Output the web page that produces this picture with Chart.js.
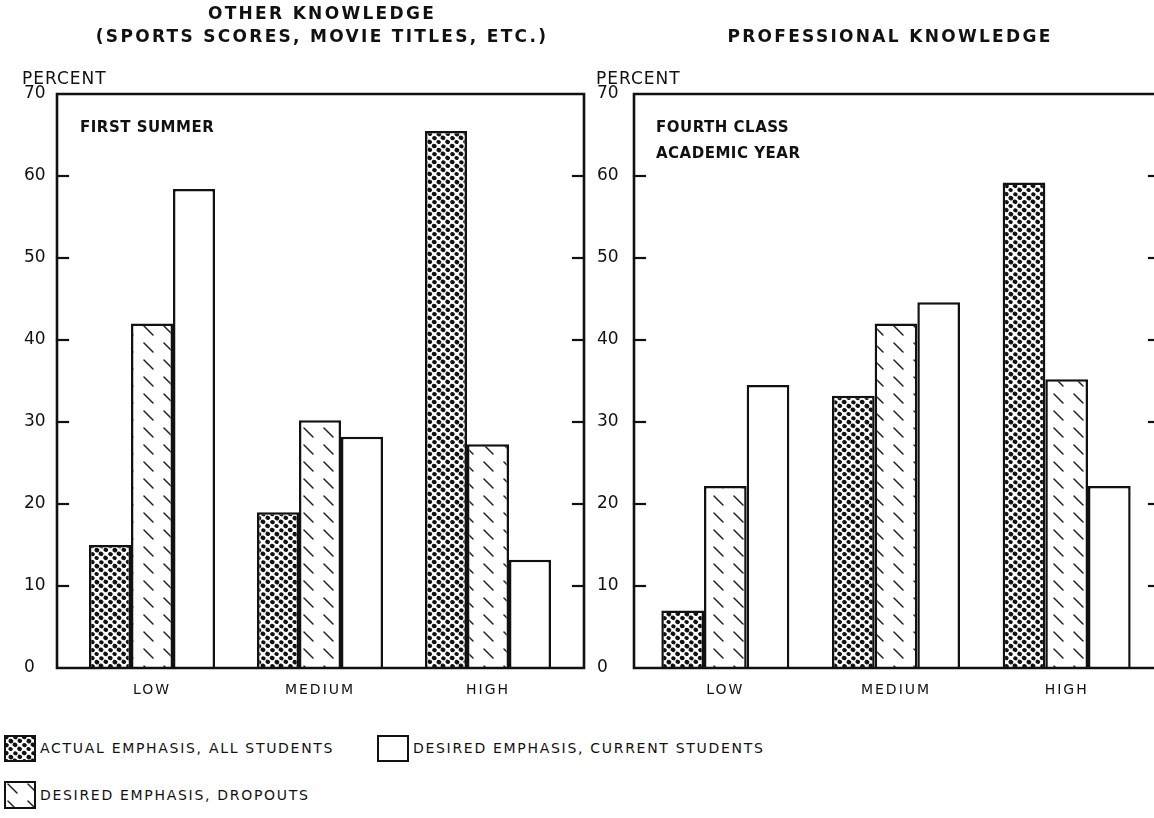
<!DOCTYPE html>
<html><head><meta charset="utf-8">
<script src="https://cdn.jsdelivr.net/npm/chart.js@4.4.0/dist/chart.umd.min.js"></script>
<style>
html,body{margin:0;padding:0;background:#fff;width:1154px;height:818px;overflow:hidden;}
#stage{position:relative;width:1154px;height:818px;overflow:hidden;font-family:"DejaVu Sans",sans-serif;color:#111;}
.abs{position:absolute;white-space:nowrap;line-height:20px;}
.title{font-weight:bold;font-size:17px;letter-spacing:2.3px;text-align:center;width:600px;}
.panel{font-weight:bold;font-size:15px;letter-spacing:0.5px;}
.pct{font-size:17px;letter-spacing:1px;}
.leg{font-size:14px;letter-spacing:1.7px;}
canvas.sw{position:absolute;}
</style></head>
<body><div id="stage">
<canvas id="c1" width="600" height="720" style="position:absolute;left:0;top:0;"></canvas>
<canvas id="c2" width="580" height="720" style="position:absolute;left:590px;top:0;"></canvas>

<div class="abs title" style="left:22px;top:3px;">OTHER KNOWLEDGE</div>
<div class="abs title" style="left:22px;top:26px;">(SPORTS SCORES, MOVIE TITLES, ETC.)</div>
<div class="abs title" style="left:590px;top:26px;">PROFESSIONAL KNOWLEDGE</div>

<div class="abs pct" style="left:22px;top:68px;">PERCENT</div>
<div class="abs pct" style="left:596px;top:68px;">PERCENT</div>

<div class="abs panel" style="left:80px;top:117px;">FIRST SUMMER</div>
<div class="abs panel" style="left:656px;top:117px;">FOURTH CLASS</div>
<div class="abs panel" style="left:656px;top:143px;">ACADEMIC YEAR</div>

<canvas class="sw" id="sw1" width="32" height="27" style="left:4px;top:735px;"></canvas>
<div class="abs leg" style="left:40px;top:738px;">ACTUAL EMPHASIS, ALL STUDENTS</div>
<canvas class="sw" id="sw2" width="32" height="27" style="left:377px;top:735px;"></canvas>
<div class="abs leg" style="left:413px;top:738px;">DESIRED EMPHASIS, CURRENT STUDENTS</div>
<canvas class="sw" id="sw3" width="32" height="28" style="left:4px;top:781px;"></canvas>
<div class="abs leg" style="left:40px;top:785px;">DESIRED EMPHASIS, DROPOUTS</div>
</div>
<script>
// ---- data ----
const categories = ['LOW', 'MEDIUM', 'HIGH'];
const seriesNames = ['ACTUAL EMPHASIS, ALL STUDENTS', 'DESIRED EMPHASIS, DROPOUTS', 'DESIRED EMPHASIS, CURRENT STUDENTS'];
const otherActual   = [15, 19, 65.5];
const otherDropouts = [42, 30.2, 27.3];
const otherCurrent  = [58.4, 28.2, 13.2];
const profActual    = [7, 33.2, 59.2];
const profDropouts  = [22.2, 42, 35.2];
const profCurrent   = [34.5, 44.6, 22.2];
const yTickValues   = [0, 10, 20, 30, 40, 50, 60, 70];

// ---- patterns ----
function makeStipple() {
  const W = 18, H = 16;
  const c = document.createElement('canvas'); c.width = W; c.height = H;
  const x = c.getContext('2d');
  x.fillStyle = '#fff'; x.fillRect(0, 0, W, H);
  x.fillStyle = '#111';
  // hex arrangement with small fixed irregularity for a stippled look
  const pts = [[2.2, 2.0, 2.4], [11.4, 2.3, 2.2], [6.9, 6.1, 2.5], [15.8, 5.8, 2.3],
               [2.5, 10.1, 2.3], [11.0, 9.8, 2.5], [6.6, 14.0, 2.2], [15.6, 13.9, 2.4]];
  pts.forEach(([px, py, r]) => {
    for (let dx = -W; dx <= W; dx += W) for (let dy = -H; dy <= H; dy += H) {
      x.beginPath(); x.ellipse(px + dx, py + dy, r, r * 0.9, 0.4, 0, Math.PI * 2); x.fill();
    }
  });
  return x.createPattern(c, 'repeat');
}
function makeHatch() {
  const c = document.createElement('canvas'); c.width = 20; c.height = 17;
  const x = c.getContext('2d');
  x.fillStyle = '#fff'; x.fillRect(0, 0, 20, 17);
  x.strokeStyle = '#222'; x.lineWidth = 1.5; x.lineCap = 'round';
  x.beginPath(); x.moveTo(4, 3); x.lineTo(13, 12); x.stroke();
  return x.createPattern(c, 'repeat');
}
const stipple = makeStipple();
const hatch = makeHatch();
const fills = [stipple, hatch, '#ffffff'];

// ---- plugins: letter-spaced category labels, frame with inward ticks ----
const spacingPlugin = {
  id: 'spacing',
  beforeDraw(chart) {
    const xs = chart.scales.x;
    if (!xs._spaced) {
      const orig = xs.drawLabels.bind(xs);
      xs.drawLabels = function (ca) {
        const c = this.ctx, prev = c.letterSpacing;
        c.letterSpacing = '2px'; orig(ca); c.letterSpacing = prev;
      };
      xs._spaced = true;
    }
  }
};
const framePlugin = {
  id: 'frame',
  afterDatasetsDraw(chart, args, opts) {
    const {ctx, chartArea: a} = chart;
    const y = chart.scales.y;
    const L = a.left - opts.insetL, R = a.right + opts.insetR, T = a.top, B = a.bottom;
    ctx.save();
    ctx.strokeStyle = '#111'; ctx.lineWidth = 2.6; ctx.lineCap = 'square';
    ctx.beginPath();
    ctx.moveTo(L, B); ctx.lineTo(L, T); ctx.lineTo(R, T); ctx.lineTo(R, B); ctx.closePath();
    ctx.stroke();
    ctx.lineWidth = 2.2;
    yTickValues.slice(1, -1).forEach(v => {
      const py = y.getPixelForValue(v);
      ctx.beginPath(); ctx.moveTo(L, py); ctx.lineTo(L + 11, py); ctx.stroke();
      ctx.beginPath(); ctx.moveTo(R - 11, py); ctx.lineTo(R, py); ctx.stroke();
    });
    ctx.restore();
  }
};

function makeChart(id, values, g) {
  return new Chart(document.getElementById(id), {
    type: 'bar',
    data: {
      labels: categories,
      datasets: values.map((d, i) => ({
        label: seriesNames[i], data: d,
        backgroundColor: fills[i], borderColor: '#111', borderWidth: 2.5,
        categoryPercentage: 0.75, barPercentage: 1.0
      }))
    },
    plugins: [spacingPlugin, framePlugin],
    options: {
      responsive: false, animation: false, devicePixelRatio: 1,
      layout: {padding: {left: g.padL, right: g.padR, top: g.padT, bottom: g.padB}},
      plugins: {legend: {display: false}, tooltip: {enabled: false}, title: {display: false},
        frame: {insetL: g.insetL, insetR: g.insetR}},
      scales: {
        x: {
          grid: {display: false, drawTicks: false}, border: {display: false},
          ticks: {color: '#111', padding: 14, font: {family: 'DejaVu Sans', size: 14}},
          afterFit(s) { s.height = 40; }
        },
        y: {
          min: 0, max: 70,
          afterBuildTicks(s) { s.ticks = yTickValues.map(v => ({value: v})); },
          grid: {display: false, drawTicks: false}, border: {display: false},
          ticks: {color: '#111', padding: 0, crossAlign: 'far', font: {family: 'DejaVu Sans', size: 17}},
          afterFit(s) { s.width = g.axisW; }
        }
      }
    }
  });
}

makeChart('c1', [otherActual, otherDropouts, otherCurrent],
  {padL: 24, axisW: 44, padR: 28, padT: 94, padB: 12, insetL: 11, insetR: 12});
makeChart('c2', [profActual, profDropouts, profCurrent],
  {padL: 597 - 590, axisW: 43, padR: 18, padT: 94, padB: 12, insetL: 6, insetR: 8});

// ---- legend swatches ----
function swatch(id, fill) {
  const c = document.getElementById(id), x = c.getContext('2d');
  x.fillStyle = fill; x.fillRect(0, 0, c.width, c.height);
  x.strokeStyle = '#111'; x.lineWidth = 2; x.strokeRect(1, 1, c.width - 2, c.height - 2);
}
swatch('sw1', stipple);
swatch('sw2', '#ffffff');
swatch('sw3', hatch);
</script>
</body></html>
